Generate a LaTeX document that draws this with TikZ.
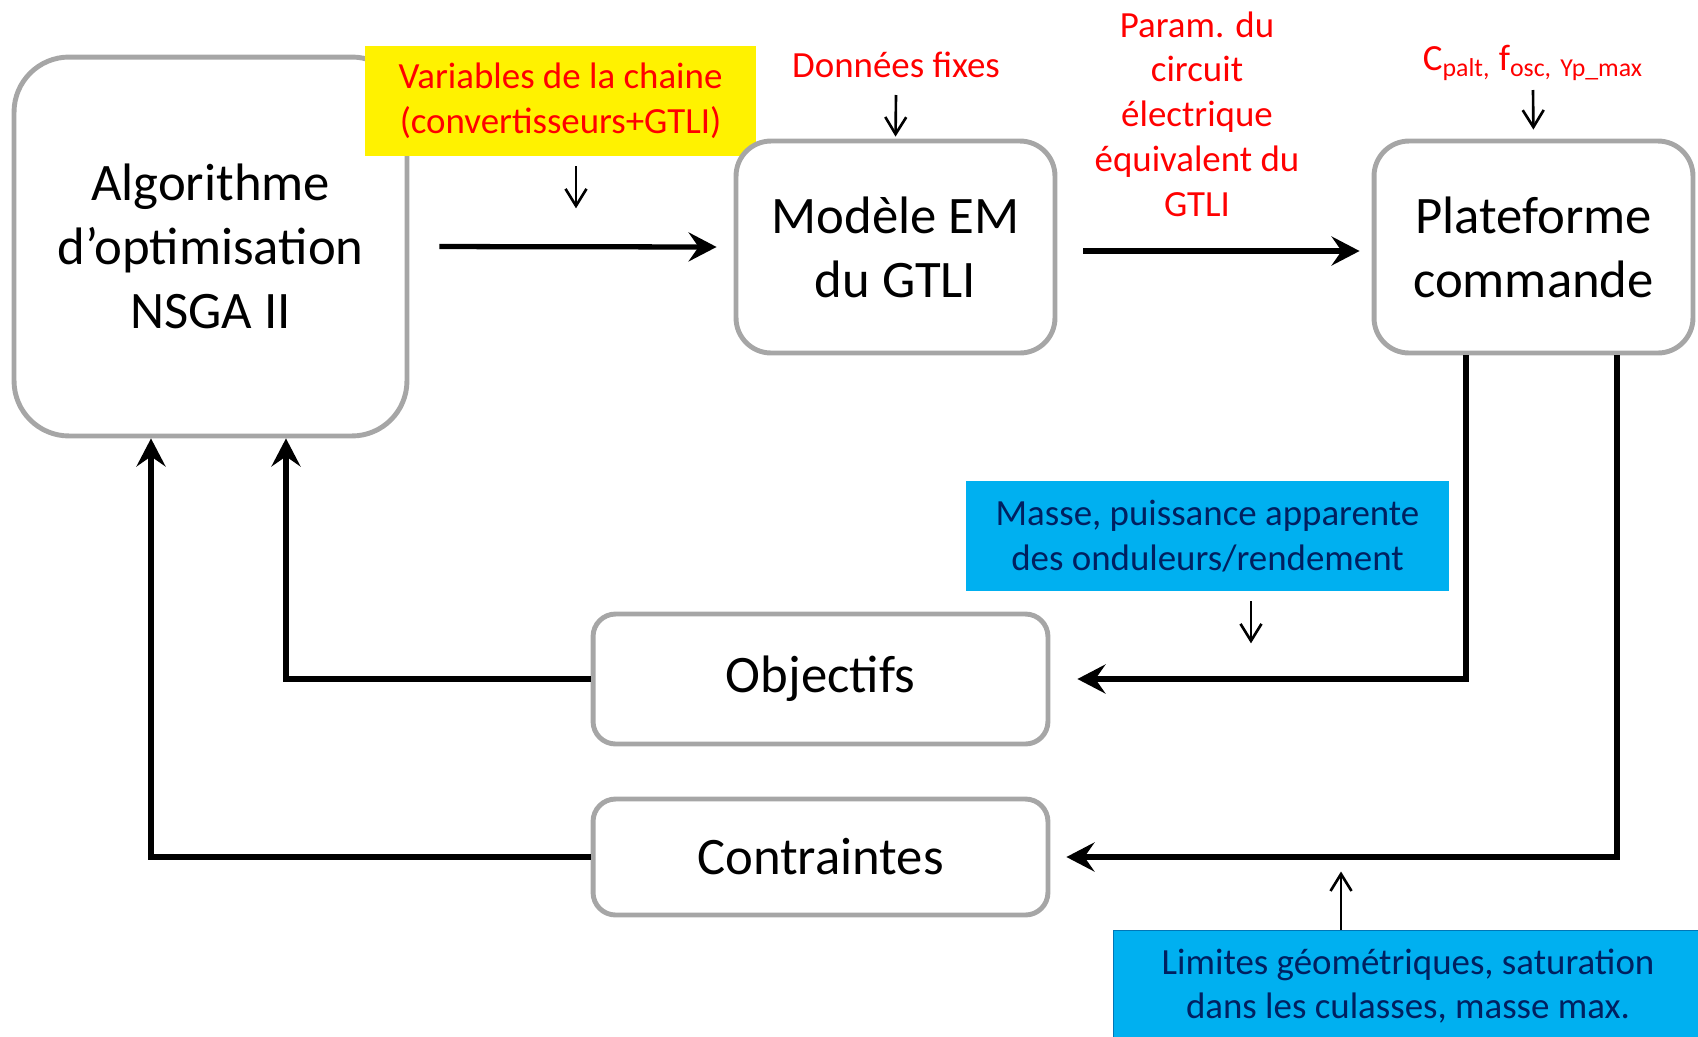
\documentclass[tikz,border=0pt]{standalone}
\usepackage{fontspec}
\setmainfont{Carlito}
\usetikzlibrary{arrows.meta, positioning}
\definecolor{boxgray}{HTML}{A6A6A6}
\definecolor{cyanfill}{HTML}{00B0F0}
\definecolor{navytext}{HTML}{002060}
\definecolor{redtext}{HTML}{FF0000}

\begin{document}
\begin{tikzpicture}[x=0.02cm,y=-0.02cm]
    \tikzstyle{block}=[draw=boxgray, line width=2.8pt, fill=white, align=center, inner sep=0pt, font=\fontsize{30}{36.5}\selectfont]
    \tikzstyle{note}=[text=redtext, align=center, inner sep=0pt, font=\fontsize{21}{25.5}\selectfont]
    \tikzstyle{result}=[fill=cyanfill, text=navytext, align=center, inner sep=0pt, font=\fontsize{21}{25.3}\selectfont]
    \tikzstyle{flow}=[line width=3pt, -{Stealth[length=0.56cm,width=0.58cm,inset=0.2cm]}]
    \tikzstyle{feed}=[line width=1.5pt, -{Straight Barb[length=0.34cm,width=0.42cm]}]

    \useasboundingbox (0,0) rectangle (1698,1036);

    % Draw the main blocks
    \node[block, minimum width=7.86cm, minimum height=7.58cm, rounded corners=1.1cm] (algo) at (210.5,246.5) {Algorithme\\d’optimisation\\NSGA II};
    \node[note, fill=yellow, minimum width=7.82cm, minimum height=2.2cm] (vars) at (560.5,101) {Variables de la chaine\\(convertisseurs+GTLI)};
    \node[block, minimum width=6.38cm, minimum height=4.24cm, rounded corners=0.7cm] (modele) at (895.5,247) {Modèle EM\\du GTLI};
    \node[block, minimum width=6.38cm, minimum height=4.24cm, rounded corners=0.7cm] (plateforme) at (1533.5,247) {Plateforme\\commande};
    \node[block, minimum width=9.1cm, minimum height=2.6cm, rounded corners=0.45cm] (objectifs) at (820.5,679) {Objectifs};
    \node[block, minimum width=9.1cm, minimum height=2.32cm, rounded corners=0.45cm] (contraintes) at (820.5,857) {Contraintes};

    % Annotate the inputs
    \node[note] (donnees) at (896,65) {Données fixes};
    \node[note] (param) at (1197,114) {Param. du\\circuit\\électrique\\équivalent du\\GTLI};
    \node[note] (cpalt) at (1533,63) {C\textsubscript{palt,} f\textsubscript{osc,} \textsubscript{Yp\_max}};

    % Annotate the outputs
    \node[result, minimum width=9.66cm, minimum height=2.2cm] (masse) at (1207.5,536) {Masse, puissance apparente\\des onduleurs/rendement};
    \node[result, draw=cyanfill!60!navytext, line width=0.6pt, minimum width=11.8cm, minimum height=2.24cm] (limites) at (1408,986) {Limites géométriques, saturation\\dans les culasses, masse max.};

    % Connect the chain
    \draw[flow, shorten <=0.6cm, shorten >=0.34cm] (algo.east) -- (modele.west);
    \draw[flow, shorten <=0.52cm, shorten >=0.24cm] ([yshift=-0.08cm]modele.east) -- ([yshift=-0.08cm]plateforme.west);

    % Feedback to the algorithm
    \draw[flow, shorten >=0.54cm] ([xshift=-1.35cm]plateforme.south) |- (objectifs.east);
    \draw[flow, shorten >=0.32cm] ([xshift=1.67cm]plateforme.south) |- (contraintes.east);
    \draw[flow] (objectifs.west) -| ([xshift=1.51cm]algo.south);
    \draw[flow] (contraintes.west) -| ([xshift=-1.19cm]algo.south);

    % Small arrows of the annotations
    \draw[feed] ([xshift=0.31cm,yshift=-0.2cm]vars.south) -- ++(0,42);
    \draw[feed, shorten >=0.04cm] ([yshift=-0.6cm]donnees.center) -- (modele.north);
    \draw[feed, shorten >=0.18cm] ([yshift=-0.54cm]cpalt.center) -- (plateforme.north);
    \draw[feed] ([xshift=0.87cm,yshift=-0.2cm]masse.south) -- ++(0,42);
    \draw[feed] ([xshift=-1.34cm]limites.north) -- ++(0,-58);

\end{tikzpicture}
\end{document}
